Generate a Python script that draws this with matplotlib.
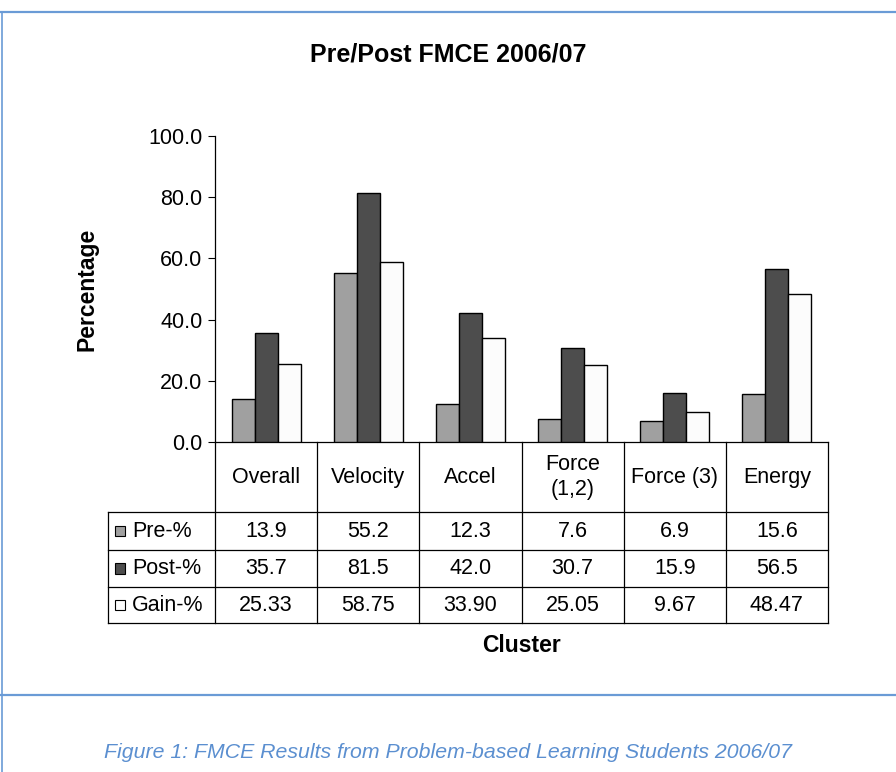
import numpy as np
import matplotlib.pyplot as plt
from matplotlib.patches import Rectangle
from matplotlib.lines import Line2D
import matplotlib.transforms as mtransforms

# === Data ===
clusters = ["Overall", "Velocity", "Accel", "Force\n(1,2)", "Force (3)", "Energy"]
series_names = ["Pre-%", "Post-%", "Gain-%"]
pre = [13.9, 55.2, 12.3, 7.6, 6.9, 15.6]
post = [35.7, 81.5, 42.0, 30.7, 15.9, 56.5]
gain = [25.33, 58.75, 33.90, 25.05, 9.67, 48.47]
table_text = [
    ["13.9", "55.2", "12.3", "7.6", "6.9", "15.6"],
    ["35.7", "81.5", "42.0", "30.7", "15.9", "56.5"],
    ["25.33", "58.75", "33.90", "25.05", "9.67", "48.47"],
]
colors = ["#a0a0a0", "#4d4d4d", "#fcfcfc"]
yticks = [0, 20, 40, 60, 80, 100]

plt.rcParams['font.family'] = ['Liberation Sans', 'DejaVu Sans']
FS = 15.5

W, H = 896, 772
fig = plt.figure(figsize=(W / 100, H / 100), dpi=100)

# axes placed in pixel terms (left 215, right 828, top 136, bottom 442)
ax = fig.add_axes([215 / W, (H - 442) / H, (828 - 215) / W, (442 - 136) / H])

x = np.arange(len(clusters))
bw = 0.225
for i, vals in enumerate([pre, post, gain]):
    ax.bar(x + (i - 1) * bw, vals, width=bw, color=colors[i],
           edgecolor="black", linewidth=1.0, zorder=3)

ax.set_xlim(-0.5, len(clusters) - 0.5)
ax.set_ylim(0, 100)
ax.set_yticks(yticks)
ax.set_yticklabels([f"{v:.1f}" for v in yticks], fontsize=FS)
ax.tick_params(axis="y", direction="out", length=5, width=0.8, pad=4)
ax.set_xticks([])
for s in ["top", "right"]:
    ax.spines[s].set_visible(False)
for s in ["left", "bottom"]:
    ax.spines[s].set_linewidth(0.9)

ax.set_ylabel("Percentage", fontsize=16.5, fontweight="bold", labelpad=36)

# === data table under the axes ===
trans = mtransforms.blended_transform_factory(ax.transData, ax.transAxes)
row_y = [0.0, -0.2288, -0.353, -0.474, -0.5915]
left_x = -1.547
right_x = len(clusters) - 0.5
lw = 0.9

def hline(x0, x1, y):
    ax.add_line(Line2D([x0, x1], [y, y], transform=trans, color="black",
                       lw=lw, clip_on=False))

def vline(xx, y0, y1):
    ax.add_line(Line2D([xx, xx], [y0, y1], transform=trans, color="black",
                       lw=lw, clip_on=False))

for y in row_y[1:]:
    hline(left_x, right_x, y)
for k in range(len(clusters) + 1):
    vline(k - 0.5, row_y[0], row_y[-1])
vline(left_x, row_y[1], row_y[-1])

# category labels
for k, name in enumerate(clusters):
    ax.text(k, (row_y[0] + row_y[1]) / 2, name, transform=trans,
            ha="center", va="center", fontsize=FS, linespacing=1.25)

# series rows
for r, name in enumerate(series_names):
    yc = (row_y[r + 1] + row_y[r + 2]) / 2
    ax.add_patch(Rectangle((left_x + 0.07, yc - 0.017), 0.1, 0.034,
                           transform=trans, facecolor=colors[r],
                           edgecolor="black", lw=0.8, clip_on=False))
    ax.text(left_x + 0.235, yc, name, transform=trans, ha="left",
            va="center", fontsize=FS)
    for k in range(len(clusters)):
        ax.text(k, yc, table_text[r][k], transform=trans, ha="center",
                va="center", fontsize=FS)

ax.text(0.5, -0.665, "Cluster", transform=ax.transAxes, ha="center",
        va="center", fontsize=16.5, fontweight="bold")

# === title, frame, caption ===
fig.text(448 / W, 1 - 55 / H, "Pre/Post FMCE 2006/07", ha="center",
         va="center", fontsize=18, fontweight="bold")

blue = "#6a9bd6"
fig.add_artist(Line2D([0, 1], [1 - 12 / H, 1 - 12 / H], transform=fig.transFigure,
                      color=blue, lw=1.6))
fig.add_artist(Line2D([0, 1], [1 - 695 / H, 1 - 695 / H], transform=fig.transFigure,
                      color=blue, lw=1.6))
fig.add_artist(Line2D([1.5 / W, 1.5 / W], [0, 1 - 12 / H], transform=fig.transFigure,
                      color=blue, lw=1.2))

fig.text(448 / W, 1 - 752 / H,
         "Figure 1: FMCE Results from Problem-based Learning Students 2006/07",
         ha="center", va="center", fontsize=15.3, style="italic", color="#5b8fd0")

fig.savefig("out.png", dpi=100)
